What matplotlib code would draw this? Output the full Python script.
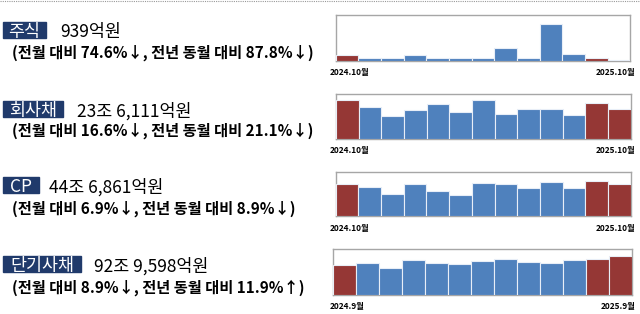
import matplotlib
matplotlib.use("Agg")
import matplotlib.pyplot as plt
from matplotlib.patches import Rectangle
from matplotlib.lines import Line2D

plt.rcParams['font.family'] = ['Noto Sans CJK KR', 'DejaVu Sans']

# 항목별 데이터 (억원, 그림에서 읽은 추정값)
names = ["주식", "회사채", "CP", "단기사채"]
totals = ["939억원", "23조 6,111억원", "44조 6,861억원", "92조 9,598억원"]
changes = ["(전월 대비 74.6%↓, 전년 동월 대비 87.8%↓)",
           "(전월 대비 16.6%↓, 전년 동월 대비 21.1%↓)",
           "(전월 대비 6.9%↓, 전년 동월 대비 8.9%↓)",
           "(전월 대비 8.9%↓, 전년 동월 대비 11.9%↑)"]
start_labels = ["2024.10월", "2024.10월", "2024.10월", "2024.9월"]
end_labels = ["2025.10월", "2025.10월", "2025.10월", "2025.9월"]

stock = [7700, 4400, 4400, 8200, 4300, 4300, 3300, 19100, 4300, 52800, 9700, 3700, 939]
corp_bond = [307700, 254700, 185700, 233500, 278600, 214900, 307700,
             199000, 236100, 236100, 188400, 283900, 236111]
cp = [446900, 405400, 304100, 437700, 350100, 285600, 460700,
      437700, 387000, 465300, 382400, 479100, 446861]
short_bond = [729300, 761300, 641100, 841500, 761300, 745300, 809400,
              857500, 785400, 761300, 841500, 865500, 929598]
series = [stock, corp_bond, cp, short_bond]
y_tops = [66000, 355500, 603500, 1105900]
red_idx = [0, 11, 12]

BLUE = '#4F81BD'
RED = '#953735'
NAVY = '#203A6B'

W, H = 640, 314
fig = plt.figure(figsize=(6.4, 3.14), dpi=100)

# 텍스트용 전체 좌표 (픽셀 단위)
bg = fig.add_axes([0, 0, 1, 1])
bg.set_xlim(0, W)
bg.set_ylim(H, 0)
bg.axis('off')

fig.add_artist(Line2D([0, 1], [0.997, 0.997], color='#999999', lw=0.8,
                      linestyle=(0, (1, 1)), transform=fig.transFigure))

# 왼쪽 제목 영역
head_y = [30, 109, 185, 264]
sub_y = [51.5, 129.5, 207.5, 286]
box_w = [42.5, 59.5, 35.5, 77.5]
val_x = [60, 77, 49, 94]
for i in range(4):
    bg.add_patch(Rectangle((3.3, head_y[i] - 8), box_w[i], 16, color=NAVY))
    bg.text(3.3 + box_w[i] / 2, head_y[i], names[i], color='white', fontsize=12.5,
            ha='center', va='center_baseline')
    bg.text(val_x[i], head_y[i], totals[i], color='black', fontsize=12.5,
            ha='left', va='center_baseline')
    bg.text(11.7, sub_y[i], changes[i], color='black', fontsize=11,
            fontweight='bold', ha='left', va='center_baseline')

# 오른쪽 막대 차트
ax_px = [(335.7, 630.3, 15.3, 60.7),
         (336.0, 630.7, 94.3, 139.0),
         (335.7, 630.7, 172.3, 216.0),
         (333.3, 631.7, 249.0, 295.0)]
lab_y = [72.5, 151, 228.3, 306.7]
for i in range(4):
    x0, x1, t, b = ax_px[i]
    ax = fig.add_axes([x0 / W, 1 - b / H, (x1 - x0) / W, (b - t) / H])
    vals = series[i]
    cols = [RED if k in red_idx else BLUE for k in range(len(vals))]
    ax.bar(range(len(vals)), vals, width=1.0, color=cols,
           edgecolor='#E8EEF7', linewidth=0.8, zorder=3)
    ax.set_xlim(-0.5, len(vals) - 0.5)
    ax.set_ylim(0, y_tops[i])
    ax.set_xticks([])
    ax.set_yticks([])
    for s in ax.spines.values():
        s.set_color('#A6A6A6')
        s.set_linewidth(1.0)
    bg.text(330, lab_y[i], start_labels[i], fontsize=6, fontweight='bold',
            ha='left', va='center')
    bg.text(635, lab_y[i], end_labels[i], fontsize=6, fontweight='bold',
            ha='right', va='center')

fig.savefig("out.png", dpi=100)
